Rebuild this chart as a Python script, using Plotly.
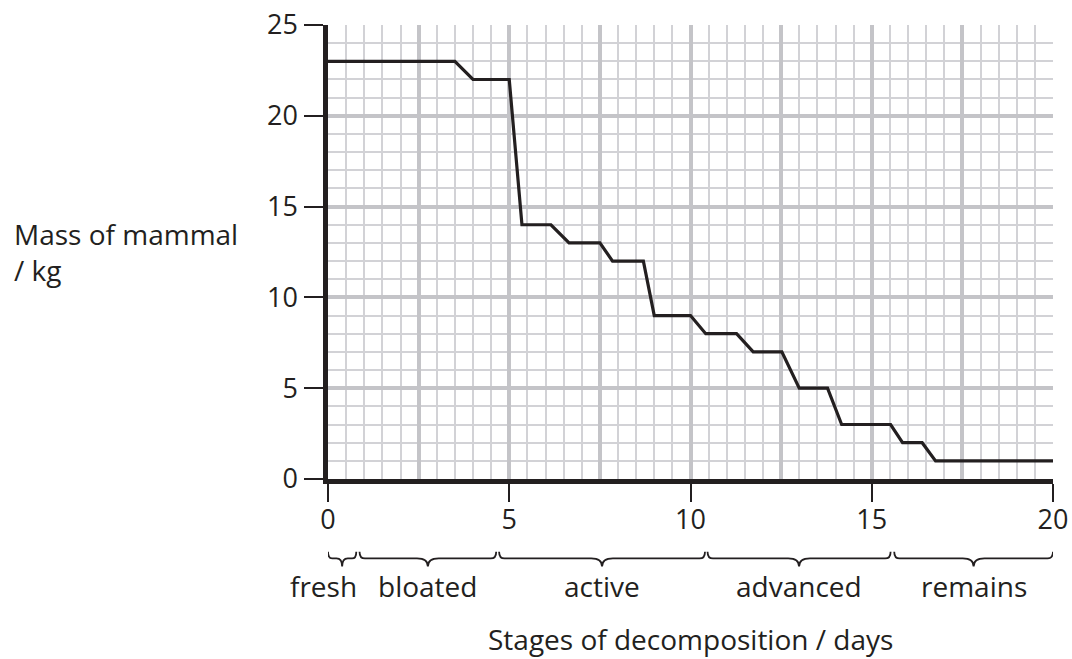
import plotly.graph_objects as go

# Data
days = [0, 3.5, 4.0, 5.0, 5.35, 6.15, 6.65, 7.5, 7.85, 8.7, 9.0, 10.0, 10.42,
        11.27, 11.73, 12.52, 13.0, 13.78, 14.17, 15.52, 15.85, 16.39, 16.76, 20]
mass = [23, 23, 22, 22, 14, 14, 13, 13, 12, 12, 9, 9, 8,
        8, 7, 7, 5, 5, 3, 3, 2, 2, 1, 1]

stages = ["fresh", "bloated", "active", "advanced", "remains"]
stage_start = [0.0, 0.87, 4.72, 10.47, 15.62]
stage_end = [0.78, 4.64, 10.40, 15.52, 20.0]
stage_label_shift = [-19, 0, 0, 0, 0]

x_ticks = [0, 5, 10, 15, 20]
x_major_grid = [0, 2.5, 5, 7.5, 10, 12.5, 15, 17.5, 20]
y_ticks = [0, 5, 10, 15, 20, 25]

INK = "#231f20"
FONT = "Open Sans"
FS = 28
TFS = 27
MAJOR = "#c4c4c8"
MINOR = "#d2d2d6"

fig = go.Figure()
fig.add_trace(go.Scatter(
    x=days, y=mass, mode="lines", xaxis="x", yaxis="y",
    line=dict(color=INK, width=3.2), hoverinfo="skip", showlegend=False,
))
# invisible copy so that the tick-carrying overlay axis is drawn
fig.add_trace(go.Scatter(
    x=days, y=mass, mode="lines", xaxis="x2", yaxis="y", opacity=0,
    line=dict(color=INK, width=0.1), hoverinfo="skip", showlegend=False,
))

fig.update_layout(
    width=1072, height=659,
    margin=dict(l=328, r=19, t=25, b=180),
    paper_bgcolor="white", plot_bgcolor="white",
    font=dict(family=FONT, size=FS, color=INK),
    showlegend=False,
    xaxis=dict(
        range=[0, 20], tickvals=x_major_grid, ticktext=[""] * len(x_major_grid),
        showgrid=True, gridcolor=MAJOR, gridwidth=3.5, automargin=False,
        ticks="", showline=False, zeroline=False, fixedrange=True,
        minor=dict(dtick=0.5, showgrid=True, gridcolor=MINOR, gridwidth=1.6),
    ),
    xaxis2=dict(
        range=[0, 20], overlaying="x", anchor="y", side="bottom",
        tickvals=x_ticks, ticktext=[str(v) for v in x_ticks],
        ticks="outside", ticklen=18, tickwidth=2, tickcolor=INK,
        showgrid=False, showline=True, linecolor=INK, linewidth=4.5,
        zeroline=False, ticklabelstandoff=-5, automargin=False,
        ticklabeloverflow="allow",
        tickfont=dict(family=FONT, size=TFS, color=INK), fixedrange=True,
    ),
    yaxis=dict(
        range=[0, 25], tickvals=y_ticks, ticktext=[str(v) for v in y_ticks],
        ticks="outside", ticklen=19, tickwidth=2, tickcolor=INK,
        showgrid=True, gridcolor=MAJOR, gridwidth=3.5, automargin=False,
        showline=True, linecolor=INK, linewidth=4.5, zeroline=False,
        minor=dict(dtick=1, showgrid=True, gridcolor=MINOR, gridwidth=1.6),
        ticklabelstandoff=1, ticklabeloverflow="allow",
        tickfont=dict(family=FONT, size=TFS, color=INK), fixedrange=True,
    ),
)

# Braces under the x axis for the decomposition stages
y_top, y_line, y_tip = -0.160, -0.175, -0.193
for name, a, b, sh in zip(stages, stage_start, stage_end, stage_label_shift):
    m = (a + b) / 2
    w = b - a
    h = min(0.15, w * 0.15)
    h2 = min(0.3, w * 0.2)
    path = (f"M {a},{y_top} Q {a},{y_line} {a + h},{y_line} "
            f"L {m - h2},{y_line} Q {m},{y_line} {m},{y_tip} "
            f"Q {m},{y_line} {m + h2},{y_line} "
            f"L {b - h},{y_line} Q {b},{y_line} {b},{y_top}")
    fig.add_shape(type="path", path=path, xref="x2", yref="paper",
                  line=dict(color=INK, width=1.8), layer="above")
    fig.add_annotation(x=m, y=-0.236, xref="x2", yref="paper", text=name,
                       showarrow=False, xanchor="center", yanchor="middle",
                       xshift=sh, font=dict(family=FONT, size=FS, color=INK))

fig.add_annotation(x=0.5, y=-0.353, xref="paper", yref="paper",
                   text="Stages of decomposition / days", showarrow=False,
                   xanchor="center", yanchor="middle",
                   font=dict(family=FONT, size=FS, color=INK))
fig.add_annotation(x=-0.436, y=0.5, xref="paper", yref="paper",
                   text="Mass of mammal<br>/ kg", showarrow=False,
                   xanchor="left", yanchor="middle", align="left",
                   font=dict(family=FONT, size=FS, color=INK))

# remove the browser's default 8px body margin so the 1072x659 figure fits the window
fig.write_html(
    "out.html",
    config={"displayModeBar": False},
    post_script="document.body.style.margin='0';document.body.style.overflow='hidden';",
)
